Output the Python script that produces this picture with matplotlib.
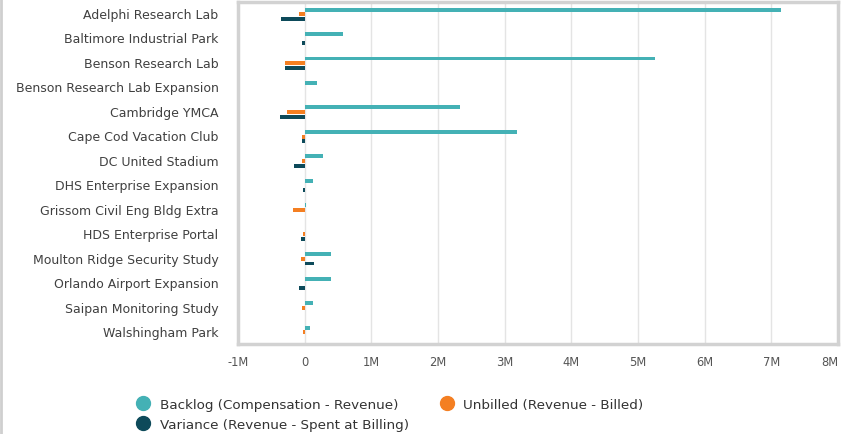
import numpy as np
import matplotlib
matplotlib.use("Agg")
import matplotlib.pyplot as plt
from matplotlib.lines import Line2D

# ── Данные (млн) ───────────────────────────────────────────────────────────────
PROJECTS = [
    "Adelphi Research Lab", "Baltimore Industrial Park", "Benson Research Lab",
    "Benson Research Lab Expansion", "Cambridge YMCA", "Cape Cod Vacation Club",
    "DC United Stadium", "DHS Enterprise Expansion", "Grissom Civil Eng Bldg Extra",
    "HDS Enterprise Portal", "Moulton Ridge Security Study", "Orlando Airport Expansion",
    "Saipan Monitoring Study", "Walshingham Park",
]
BACKLOG = [7.14, 0.58, 5.26, 0.19, 2.33, 3.18, 0.28, 0.12, 0.02, 0.0, 0.40, 0.40, 0.13, 0.08]
UNBILLED = [-0.09, 0.0, -0.30, 0.0, -0.27, -0.04, -0.04, 0.0, -0.17, -0.03, -0.05, 0.0, -0.04, -0.03]
VARIANCE = [-0.35, -0.04, -0.30, 0.0, -0.37, -0.04, -0.16, -0.03, 0.0, -0.05, 0.14, -0.08, 0.0, 0.01]

SERIES = [
    ("Backlog (Compensation - Revenue)", BACKLOG, "#44b1b5", -0.14),
    ("Unbilled (Revenue - Billed)", UNBILLED, "#f47f22", 0.05),
    ("Variance (Revenue - Spent at Billing)", VARIANCE, "#0d4a5a", 0.24),
]
XTICKS = list(range(-1, 9))

fig = plt.figure(figsize=(8.42, 4.35), dpi=100)
ax = fig.add_axes([238 / 842, 1 - 345 / 435, 600 / 842, 342 / 435])

y = np.arange(len(PROJECTS))
for name, vals, color, off in SERIES:
    ax.barh(y + off, vals, height=0.16, color=color, label=name, zorder=3)

ax.set_xlim(-1, 8)
ax.set_ylim(13.53, -0.45)
ax.set_yticks(y)
ax.set_yticklabels(PROJECTS, fontsize=9, color="#404040")
ax.set_xticks(XTICKS)
xl = ax.set_xticklabels(["0" if v == 0 else f"{v}M" for v in XTICKS], fontsize=8.3, color="#555555")
xl[-1].set_ha("right")
ax.tick_params(length=0, axis="both")
ax.tick_params(axis="x", pad=8)
ax.tick_params(axis="y", pad=14)
ax.grid(axis="x", color="#e4e4e4", lw=1, zorder=0)
for sp in ax.spines.values():
    sp.set_color("#d2d2d2")
    sp.set_linewidth(2.5)

fig.add_artist(Line2D([0.001, 0.001], [0, 1], color="#cfcfcf", lw=2, transform=fig.transFigure))

# порядок: первая колонка — Backlog, Variance; вторая — Unbilled
order = [0, 2, 1]
handles = [Line2D([], [], marker="o", ls="", ms=10, color=SERIES[i][2]) for i in order]
labels = [SERIES[i][0] for i in order]
fig.legend(handles, labels, loc="upper left", bbox_to_anchor=(128 / 842, 1 - 392 / 435),
           ncol=2, frameon=False, fontsize=9.7, labelcolor="#333333", borderpad=0,
           handletextpad=0.65, columnspacing=2.2, labelspacing=0.55, handlelength=1.2)

fig.savefig("out.png", dpi=100)
